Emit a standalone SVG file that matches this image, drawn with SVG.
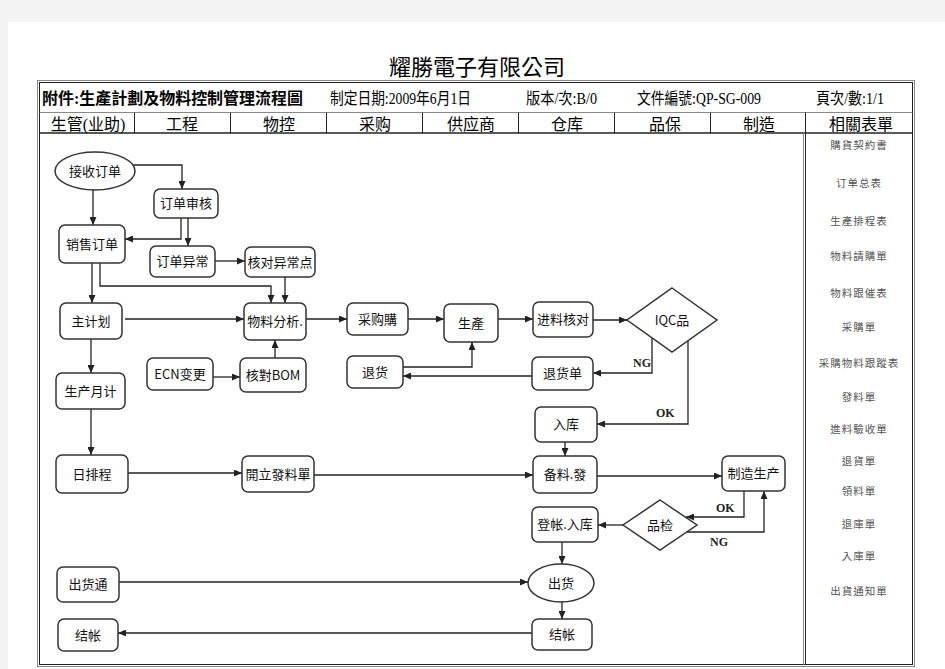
<svg xmlns="http://www.w3.org/2000/svg" width="945" height="669" viewBox="0 0 945 669">
<defs>
<marker id="ah" markerUnits="userSpaceOnUse" markerWidth="8" markerHeight="7" refX="8" refY="3.5" orient="auto">
<path d="M0,0 L8,3.5 L0,7 z" fill="#222"/>
</marker>
<style>
.hd{font-family:"Liberation Serif","Noto Sans CJK TC",serif;font-size:16px;fill:#000}
.ch{font-family:"Liberation Serif","Noto Sans CJK TC",serif;font-size:16px;fill:#000;text-anchor:middle}
.nd rect,.nd ellipse,.nd polygon{fill:#fff;stroke:#333;stroke-width:1.5}
.nd text{font-family:"Noto Sans CJK SC","Noto Sans CJK TC",sans-serif;font-size:13px;fill:#111;text-anchor:middle}
.cn path{fill:none;stroke:#222;stroke-width:1.3;marker-end:url(#ah)}
.lb{font-family:"Liberation Serif",serif;font-weight:bold;font-size:12px;fill:#222}
.fm{font-family:"Noto Sans CJK TC","Noto Sans CJK SC",sans-serif;font-size:10.5px;fill:#555;text-anchor:middle;letter-spacing:1px}
.gl{stroke:#888;stroke-width:1;fill:none}
.dl{stroke:#222;stroke-width:1;fill:none}
</style>
</defs>
<rect x="0" y="0" width="945" height="669" fill="#f3f3f3"/>
<rect x="8" y="22" width="937" height="647" fill="#fff"/>

<text x="477" y="75" font-family="Liberation Serif,Noto Sans CJK TC,serif" font-size="22" text-anchor="middle" fill="#000">耀勝電子有限公司</text>

<g id="frame">
<rect class="gl" x="37.5" y="80.5" width="877" height="586"/>
<rect class="dl" x="39.5" y="82.5" width="873" height="582"/>
<line class="gl" x1="39.5" y1="112.5" x2="912.5" y2="112.5"/>
<line x1="39.5" y1="133" x2="912.5" y2="133" stroke="#222" stroke-width="1.5"/>
<g class="dl">
<line x1="134.5" y1="112.5" x2="134.5" y2="133"/>
<line x1="230.5" y1="112.5" x2="230.5" y2="133"/>
<line x1="326.5" y1="112.5" x2="326.5" y2="133"/>
<line x1="422.5" y1="112.5" x2="422.5" y2="133"/>
<line x1="518.5" y1="112.5" x2="518.5" y2="133"/>
<line x1="614.5" y1="112.5" x2="614.5" y2="133"/>
<line x1="710.5" y1="112.5" x2="710.5" y2="133"/>
<line x1="805.5" y1="112.5" x2="805.5" y2="665"/>
</g>
<line class="gl" x1="803.5" y1="133" x2="803.5" y2="665"/>
</g>

<g id="header">
<text class="hd" x="42" y="104" font-weight="bold" textLength="261" lengthAdjust="spacingAndGlyphs">附件:生產計劃及物料控制管理流程圖</text>
<text class="hd" x="330" y="104" textLength="141" lengthAdjust="spacingAndGlyphs">制定日期:2009年6月1日</text>
<text class="hd" x="526" y="104" textLength="71" lengthAdjust="spacingAndGlyphs">版本/次:B/0</text>
<text class="hd" x="637" y="104" textLength="124" lengthAdjust="spacingAndGlyphs">文件編號:QP-SG-009</text>
<text class="hd" x="816" y="104" textLength="68" lengthAdjust="spacingAndGlyphs">頁次/數:1/1</text>
<text class="ch" x="88" y="130">生管(业助)</text>
<text class="ch" x="182" y="130">工程</text>
<text class="ch" x="279" y="130">物控</text>
<text class="ch" x="375" y="130">采购</text>
<text class="ch" x="471" y="130">供应商</text>
<text class="ch" x="567" y="130">仓库</text>
<text class="ch" x="665" y="130">品保</text>
<text class="ch" x="759" y="130">制造</text>
<text class="ch" x="861" y="130">相關表單</text>
</g>

<g id="forms">
<text class="fm" x="859" y="149">購貨契約書</text>
<text class="fm" x="859" y="187">订单总表</text>
<text class="fm" x="859" y="225">生產排程表</text>
<text class="fm" x="859" y="260">物料請購單</text>
<text class="fm" x="859" y="297">物料跟催表</text>
<text class="fm" x="859" y="331">采購單</text>
<text class="fm" x="859" y="367">采購物料跟蹤表</text>
<text class="fm" x="859" y="401">發料單</text>
<text class="fm" x="859" y="433">進料驗收單</text>
<text class="fm" x="859" y="465">退貨單</text>
<text class="fm" x="859" y="495">領料單</text>
<text class="fm" x="859" y="528">退庫單</text>
<text class="fm" x="859" y="560">入庫單</text>
<text class="fm" x="859" y="595">出貨通知單</text>
</g>

<g id="connectors" class="cn">
<path d="M133,165 H182 V189"/>
<path d="M93,190 V225"/>
<path d="M181,218 V239 H125"/>
<path d="M188,218 V246"/>
<path d="M215,261 H245"/>
<path d="M92,263 V303"/>
<path d="M100,263 V286 H271 V303"/>
<path d="M285,277 V303"/>
<path d="M125,319 H244"/>
<path d="M306,319 H347"/>
<path d="M408,319 H444"/>
<path d="M498,319 H533"/>
<path d="M593,320 H627"/>
<path d="M652,338 V373 H593"/>
<path d="M532,376 H403"/>
<path d="M403,367 H472 V342"/>
<path d="M688,340 V424 H597"/>
<path d="M565,442 V456"/>
<path d="M314,475 H533"/>
<path d="M213,377 H240"/>
<path d="M275,358 V340"/>
<path d="M91,339 V373"/>
<path d="M91,409 V455"/>
<path d="M128,473 H242"/>
<path d="M597,476 H722"/>
<path d="M744,491 V517 H686"/>
<path d="M687,532 H764 V491"/>
<path d="M623,525 H598"/>
<path d="M562,542 V564"/>
<path d="M562,602 V619"/>
<path d="M119,582 H528"/>
<path d="M532,633 H118"/>
</g>

<g id="labels">
<text class="lb" x="633" y="367">NG</text>
<text class="lb" x="656" y="417">OK</text>
<text class="lb" x="716" y="512">OK</text>
<text class="lb" x="710" y="546">NG</text>
</g>

<g id="n1" class="nd"><ellipse cx="95" cy="171" rx="40" ry="19"/><text x="95" y="175.5">接收订单</text></g>
<g id="n2" class="nd"><rect x="154" y="189" width="64" height="29" rx="6"/><text x="186" y="208">订单审核</text></g>
<g id="n3" class="nd"><rect x="59" y="225" width="66" height="38" rx="6"/><text x="92" y="248.5">销售订单</text></g>
<g id="n4" class="nd"><rect x="150" y="246" width="65" height="31" rx="6"/><text x="182.5" y="266">订单异常</text></g>
<g id="n5" class="nd"><rect x="245" y="247" width="70" height="30" rx="6"/><text x="280" y="266.5">核对异常点</text></g>
<g id="n6" class="nd"><rect x="60" y="303" width="62" height="36" rx="6"/><text x="91" y="325.5">主计划</text></g>
<g id="n7" class="nd"><rect x="244" y="303" width="62" height="37" rx="6"/><text x="275" y="326">物料分析.</text></g>
<g id="n8" class="nd"><rect x="147" y="358" width="66" height="32" rx="6"/><text x="180" y="378.5">ECN变更</text></g>
<g id="n9" class="nd"><rect x="240" y="358" width="66" height="34" rx="6"/><text x="273" y="379.5">核對BOM</text></g>
<g id="n10" class="nd"><rect x="56" y="373" width="69" height="36" rx="6"/><text x="90.5" y="395.5">生产月计</text></g>
<g id="n11" class="nd"><rect x="56" y="455" width="72" height="38" rx="6"/><text x="92" y="478.5">日排程</text></g>
<g id="n12" class="nd"><rect x="242" y="456" width="72" height="36" rx="6"/><text x="278" y="478.5">開立發料單</text></g>
<g id="n13" class="nd"><rect x="347" y="303" width="61" height="32" rx="6"/><text x="377.5" y="323.5">采购購</text></g>
<g id="n14" class="nd"><rect x="444" y="304" width="54" height="38" rx="6"/><text x="471" y="327.5">生產</text></g>
<g id="n15" class="nd"><rect x="533" y="302" width="60" height="35" rx="6"/><text x="563" y="324">进料核对</text></g>
<g id="n16" class="nd"><polygon points="672,288 717,320 672,352 627,320"/><text x="672" y="324.5">IQC品</text></g>
<g id="n17" class="nd"><rect x="347" y="356" width="56" height="32" rx="6"/><text x="375" y="376.5">退货</text></g>
<g id="n18" class="nd"><rect x="532" y="357" width="61" height="33" rx="6"/><text x="562.5" y="378">退货单</text></g>
<g id="n19" class="nd"><rect x="535" y="407" width="62" height="35" rx="6"/><text x="566" y="429">入库</text></g>
<g id="n20" class="nd"><rect x="533" y="456" width="64" height="37" rx="6"/><text x="565" y="479">备料.發</text></g>
<g id="n21" class="nd"><rect x="722" y="456" width="63" height="35" rx="6"/><text x="753.5" y="478">制造生产</text></g>
<g id="n22" class="nd"><polygon points="660,500 697,525 660,550 623,525"/><text x="660" y="529.5">品检</text></g>
<g id="n23" class="nd"><rect x="532" y="507" width="66" height="35" rx="6"/><text x="565" y="529">登帐.入库</text></g>
<g id="n24" class="nd"><ellipse cx="561" cy="583" rx="33" ry="19"/><text x="561" y="587.5">出货</text></g>
<g id="n25" class="nd"><rect x="532" y="619" width="60" height="31" rx="6"/><text x="562" y="639">结帐</text></g>
<g id="n26" class="nd"><rect x="57" y="567" width="62" height="35" rx="6"/><text x="88" y="589">出货通</text></g>
<g id="n27" class="nd"><rect x="58" y="619" width="60" height="32" rx="6"/><text x="88" y="639.5">结帐</text></g>
</svg>
